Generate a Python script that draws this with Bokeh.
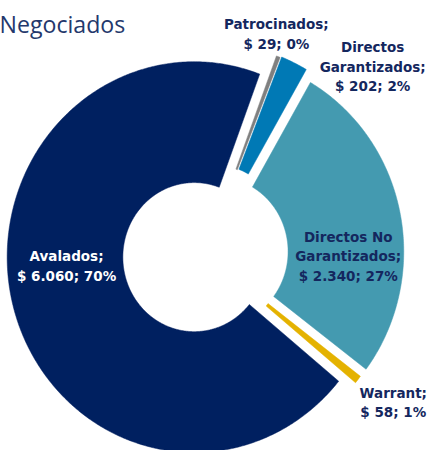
import math
import numpy as np
from bokeh.plotting import figure
from bokeh.models import Range1d, Label
from bokeh.core.properties import value
from bokeh.embed import file_html
from bokeh.resources import INLINE

# ---- data ----
categories = ["Avalados", "Patrocinados", "Directos Garantizados", "Directos No Garantizados", "Warrant"]
amounts = [6060, 29, 202, 2340, 58]
amount_labels = ["$ 6.060", "$ 29", "$ 202", "$ 2.340", "$ 58"]
pct_labels = ["70%", "0%", "2%", "27%", "1%"]
label_lines = [
    ["Avalados;"],
    ["Patrocinados;"],
    ["Directos", "Garantizados;"],
    ["Directos No", "Garantizados;"],
    ["Warrant;"],
]
title_text = "Negociados"

# ---- style / layout (reference-pixel units) ----
colors = ["#002060", "#7f7f7f", "#0079b5", "#449ab0", "#e4b200"]
text_colors = ["#ffffff", "#14275e", "#14275e", "#14275e", "#14275e"]
explode = [12, 16, 17, 12, 7.5]
avalados_end = 20.5          # clockwise from 12 o'clock, degrees
R_OUT, R_IN = 194, 74
SY = 1.043                   # vertical stretch of the reference drawing
CX, CY = 212.5, 262.5
label_polar = [(144.5, 265.2), (230.8, 18.6), (254.4, 43.0), (148.2, 90.9), (244.4, 127.1)]
LINE_GAP = 20.5
REF_W, REF_H = 446, 466
W, H = 430, 450
S = W / REF_W
FONT_PX = 14.0 * S
TITLE_PX = 24.0 * S

p = figure(width=W, height=H, output_backend="svg", toolbar_location=None,
           x_range=Range1d(0, REF_W), y_range=Range1d(0, REF_H), min_border=0)
p.axis.visible = False
p.grid.visible = False
p.outline_line_color = None
p.background_fill_color = "white"
p.border_fill_color = "white"


def yd(y_ref):
    return REF_H - y_ref


total = sum(amounts)
start = avalados_end - 360.0 * amounts[0] / total
xs_all, ys_all = [], []
cum = start
for i, v in enumerate(amounts):
    t1 = cum
    t2 = cum + 360.0 * v / total
    cum = t2
    tm = math.radians((t1 + t2) / 2)
    cx = CX + explode[i] * math.sin(tm)
    cy = CY - explode[i] * math.cos(tm) * SY
    n = max(6, int(abs(t2 - t1) * 2))
    th = np.radians(np.linspace(t1, t2, n))
    xo = cx + R_OUT * np.sin(th)
    yo = cy - R_OUT * np.cos(th) * SY
    xi = cx + R_IN * np.sin(th[::-1])
    yi = cy - R_IN * np.cos(th[::-1]) * SY
    xs_all.append(list(np.concatenate([xo, xi])))
    ys_all.append([yd(y) for y in np.concatenate([yo, yi])])

p.patches(xs=xs_all, ys=ys_all, fill_color=colors, line_color=colors, line_width=0.5)

# labels
for i in range(len(amounts)):
    lines = label_lines[i] + [f"{amount_labels[i]}; {pct_labels[i]}"]
    dist, ang = label_polar[i]
    bx = CX + dist * math.sin(math.radians(ang))
    by = CY - dist * math.cos(math.radians(ang)) * SY
    n = len(lines)
    xs = [bx] * n
    ys = [yd(by + (k - (n - 1) / 2) * LINE_GAP) for k in range(n)]
    p.text(x=xs, y=ys, text=lines, text_align="center", text_baseline="alphabetic",
           text_font=value("DejaVu Sans"), text_font_style="bold",
           text_font_size=f"{FONT_PX:.2f}px", text_color=text_colors[i])

p.add_layout(Label(x=-1, y=yd(24.5), text=title_text, text_font="Open Sans",
                   text_font_size=f"{TITLE_PX:.2f}px", text_color="#24386c",
                   text_baseline="alphabetic"))

open("out.html", "w").write(file_html(p, INLINE))
